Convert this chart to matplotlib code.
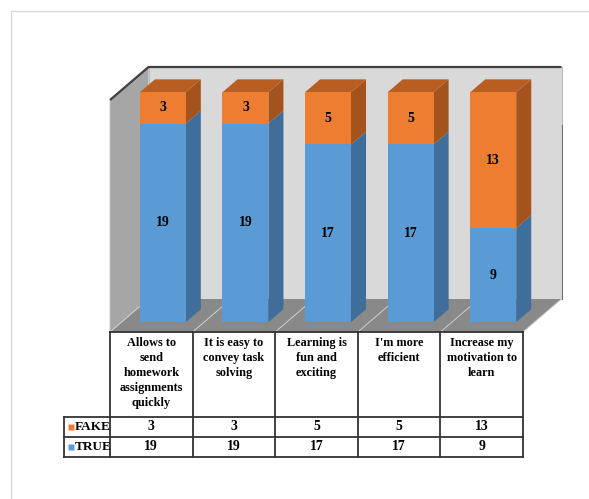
import matplotlib
matplotlib.use("Agg")
import matplotlib.pyplot as plt
from matplotlib.patches import Polygon
from matplotlib.lines import Line2D

# ---------------- data ----------------
categories = ["Allows to\nsend\nhomework\nassignments\nquickly",
              "It is easy to\nconvey task\nsolving",
              "Learning is\nfun and\nexciting",
              "I'm more\nefficient",
              "Increase my\nmotivation to\nlearn"]
series_names = ["FAKE", "TRUE"]
true_vals = [19, 19, 17, 17, 9]
fake_vals = [3, 3, 5, 5, 13]

# ---------------- style ----------------
FONT = "Liberation Serif"
BLUE, BLUE_SIDE = "#5b9bd5", "#3e6e99"
ORANGE, ORANGE_SIDE, ORANGE_TOP = "#ed7d31", "#a5531c", "#b95e22"
BACKWALL, SIDEWALL, FLOOR = "#d9d9d9", "#a6a6a6", "#898989"

W_PX, H_PX, DPI = 589, 499, 100
fig = plt.figure(figsize=(W_PX / DPI, H_PX / DPI), dpi=DPI)
fig.patch.set_facecolor("white")

# layout of the pseudo-3D plot (pixels)
X0_PX, Y0_PX = 151.3, 332.0      # category 0 centre / value 0 at front of floor
CAT_PX = 82.6                    # pixels per category
VAL_PX = 10.45                   # pixels per value unit
DEPTH_X_PX, DEPTH_Y_PX = 38.5, 33.0

ax = fig.add_axes([0, 0, 1, 1])
ax.set_xlim(-X0_PX / CAT_PX, (W_PX - X0_PX) / CAT_PX)
ax.set_ylim((Y0_PX - H_PX) / VAL_PX, Y0_PX / VAL_PX)
ax.axis("off")

DZX = DEPTH_X_PX / CAT_PX
DZY = DEPTH_Y_PX / VAL_PX


def P(x, y, z):
    return (x + z * DZX, y + z * DZY)


def py2y(py):
    return (Y0_PX - py) / VAL_PX


def px2x(px):
    return (px - X0_PX) / CAT_PX


n = len(categories)
WALL_TOP = 22.2
xl, xr = -0.5, n - 0.5

# outer light frame
fig.add_artist(Line2D([10.5 / W_PX, 1], [1 - 11 / H_PX] * 2, color="#d9d9d9", lw=1.0))
fig.add_artist(Line2D([10.5 / W_PX] * 2, [0, 1 - 11 / H_PX], color="#d9d9d9", lw=1.0))

# walls & floor
ax.add_patch(Polygon([P(xl, 0, 1), P(xr, 0, 1), P(xr, WALL_TOP, 1), P(xl, WALL_TOP, 1)],
                     closed=True, fc=BACKWALL, ec="#b0b0b0", lw=0.6, zorder=1))
ax.add_patch(Polygon([P(xl, 0, 0), P(xl, 0, 1), P(xl, WALL_TOP, 1), P(xl, WALL_TOP, 0)],
                     closed=True, fc=SIDEWALL, ec="#c8c8c8", lw=0.6, zorder=1))
ax.add_patch(Polygon([P(xl, 0, 0), P(xr, 0, 0), P(xr, 0, 1), P(xl, 0, 1)],
                     closed=True, fc=FLOOR, ec="none", zorder=1))
for k in range(n + 1):
    xb = xl + k
    (a, b), (c, d) = P(xb, 0, 0), P(xb, 0, 1)
    ax.plot([a, c], [b, d], color="#cfcfcf", lw=0.7, zorder=1.5)
# dark wall outline
pts = [P(xl, WALL_TOP, 0), P(xl, WALL_TOP, 1), P(xr, WALL_TOP, 1)]
ax.plot([p[0] for p in pts], [p[1] for p in pts], color="#404040", lw=1.6, zorder=2,
        solid_capstyle="butt")
(a, b), (c, d) = P(xr, 0, 1), P(xr, WALL_TOP * 0.75, 1)
ax.plot([a, c], [b, d], color="#707070", lw=0.8, zorder=1.6)

# bars
HW = 0.278
ZF, ZB = 0.30, 0.69


def box(xc, y0, y1, front, side, top=None):
    x1, x2 = xc - HW, xc + HW
    ax.add_patch(Polygon([P(x2, y0, ZF), P(x2, y0, ZB), P(x2, y1, ZB), P(x2, y1, ZF)],
                         closed=True, fc=side, ec="none", zorder=3))
    if top is not None:
        ax.add_patch(Polygon([P(x1, y1, ZF), P(x2, y1, ZF), P(x2, y1, ZB), P(x1, y1, ZB)],
                             closed=True, fc=top, ec="none", zorder=3))
    ax.add_patch(Polygon([P(x1, y0, ZF), P(x2, y0, ZF), P(x2, y1, ZF), P(x1, y1, ZF)],
                         closed=True, fc=front, ec="none", zorder=3))


for i in range(n):
    t, f = true_vals[i], fake_vals[i]
    box(i, 0, t, BLUE, BLUE_SIDE)
    box(i, t, t + f, ORANGE, ORANGE_SIDE, ORANGE_TOP)
    lx, ly = P(i, t / 2, ZF)
    ax.text(lx, ly, str(t), ha="center", va="center", family=FONT, weight="bold",
            fontsize=10, zorder=4)
    lx, ly = P(i, t + f / 2, ZF)
    ax.text(lx, ly, str(f), ha="center", va="center", family=FONT, weight="bold",
            fontsize=10, zorder=4)

# ---------------- data table ----------------
HEAD_TOP, HEAD_BOT, ROW1_BOT, ROW2_BOT = py2y(332), py2y(416.5), py2y(436.5), py2y(457)
LAB_L = px2x(63.5)
LW_T, TC = 1.3, "#333333"

ax.plot([xl, xr], [HEAD_TOP, HEAD_TOP], color=TC, lw=LW_T, zorder=5)
for k in range(n + 1):
    ax.plot([xl + k, xl + k], [HEAD_TOP, ROW2_BOT], color=TC, lw=LW_T, zorder=5)
for yy in (HEAD_BOT, ROW1_BOT, ROW2_BOT):
    ax.plot([LAB_L, xr], [yy, yy], color=TC, lw=LW_T, zorder=5)
ax.plot([LAB_L, LAB_L], [HEAD_BOT, ROW2_BOT], color=TC, lw=LW_T, zorder=5)

for i, cat in enumerate(categories):
    ax.text(i, py2y(337), cat, ha="center", va="top", family=FONT, weight="bold",
            fontsize=8.8, linespacing=1.33, zorder=6)

rows = [(series_names[0], fake_vals, ORANGE, (HEAD_BOT + ROW1_BOT) / 2),
        (series_names[1], true_vals, BLUE, (ROW1_BOT + ROW2_BOT) / 2)]
for name, vals, col, yc in rows:
    ax.plot([px2x(70.5)], [yc], marker="s", ms=3.8, color=col, mec="none", zorder=6)
    ax.text(px2x(74.5), yc, name, ha="left", va="center", family=FONT, weight="bold",
            fontsize=9.5, zorder=6)
    for i, v in enumerate(vals):
        ax.text(i, yc, str(v), ha="center", va="center", family=FONT, weight="bold",
                fontsize=10, zorder=6)

fig.savefig("out.png", dpi=DPI)
